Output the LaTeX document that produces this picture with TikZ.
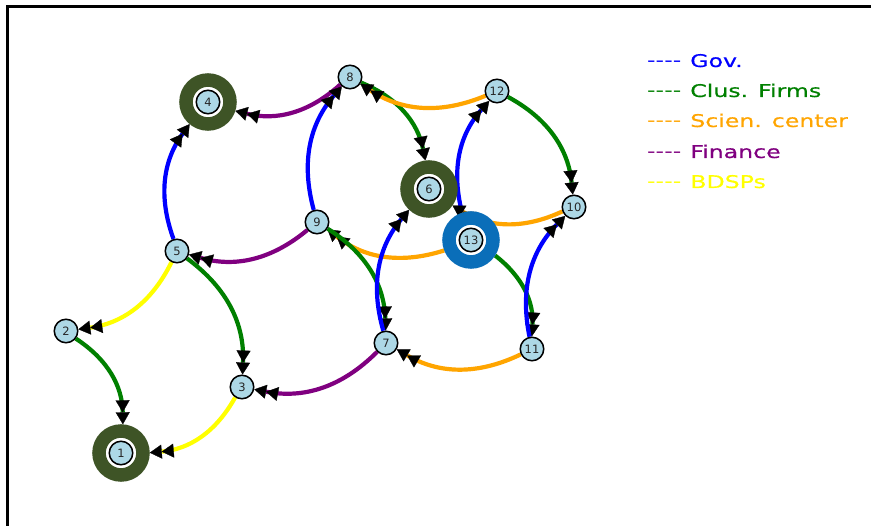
\documentclass[tikz,border=0pt]{standalone}
\usepackage{fontspec}
\usetikzlibrary{arrows.meta,backgrounds}
\newfontfamily\legendfont[FakeStretch=1.35,FakeBold=0.6]{DejaVu Sans}
\newfontfamily\dashfont[FakeStretch=1.35]{DejaVu Sans}
\newfontfamily\labelfont{DejaVu Sans}
\definecolor{nodeblue}{HTML}{ADD8E6}
\definecolor{ringolive}{RGB}{62,84,38}
\definecolor{ringblue}{RGB}{10,110,185}
\definecolor{govc}{RGB}{0,0,255}
\definecolor{firmc}{RGB}{0,128,0}
\definecolor{scic}{RGB}{255,165,0}
\definecolor{finc}{RGB}{128,0,128}
\definecolor{bdsc}{RGB}{255,255,0}
\newcommand\dashrun{{\dashfont-\kern0pt-\kern0pt-\kern0pt-}\kern9pt}
\begin{document}
\begin{tikzpicture}[x=1pt,y=-1pt,
  actor/.style={circle,draw=black,line width=1.5pt,fill=nodeblue,minimum size=23.5pt,
    inner sep=0pt,font=\labelfont\fontsize{11.5}{11.5}\selectfont,text=black!85},
  ring/.style={circle,draw=#1,line width=13.5pt,minimum size=44pt,inner sep=0pt},
  tip/.tip={Triangle[color=black,length=12pt 0 0,width=14pt 0 0,line width=0.3pt 0]},
  link/.style={draw=#1,line width=4.2pt,bend left=28,-{tip[]tip[]}},
  legend/.style={anchor=base west,inner sep=0pt,
    font=\legendfont\fontsize{17.5}{17.5}\selectfont,text=#1}
]
\useasboundingbox (0,0) rectangle (871,526);

% frame (top and left edges only)
\draw[line width=3pt] (7.5,526) -- (7.5,7) -- (871,7);

% highlighted actors (ringed)
\node[ring=ringolive] (n1)  at (121,453) {};
\node[ring=ringolive] (n4)  at (208,102) {};
\node[ring=ringolive] (n6)  at (429,189) {};
\node[ring=ringblue]  (n13) at (471,240) {};
\node[actor] (c1)  at (n1)  {1};
\node[actor] (c4)  at (n4)  {4};
\node[actor] (c6)  at (n6)  {6};
\node[actor] (c13) at (n13) {13};

% plain actors
\node[actor] (n2)  at (66,331)  {2};
\node[actor] (n3)  at (242,387) {3};
\node[actor] (n5)  at (177,251) {5};
\node[actor] (n7)  at (386,343) {7};
\node[actor] (n8)  at (350,77)  {8};
\node[actor] (n9)  at (317,222) {9};
\node[actor] (n10) at (574,207) {10};
\node[actor] (n11) at (532,349) {11};
\node[actor] (n12) at (497,91)  {12};

% relations, drawn beneath the rings
\begin{scope}[on background layer]
  \fill[white] (0,0) rectangle (871,526);
  \draw[link=finc]  (n8)  to (n4);
  \draw[link=govc]  (n5)  to (n4);
  \draw[link=govc]  (n9)  to (n8);
  \draw[link=firmc] (n8)  to (n6);
  \draw[link=scic]  (n12) to (n8);
  \draw[link=firmc] (n12) to (n10);
  \draw[link=govc]  (n13) to (n12);
  \draw[link=scic]  (n10) to (n6);
  \draw[link=scic]  (n13) to (n9);
  \draw[link=finc]  (n9)  to (n5);
  \draw[link=firmc] (n9)  to (n7);
  \draw[link=govc]  (n7)  to (n6);
  \draw[link=firmc] (n13) to (n11);
  \draw[link=govc]  (n11) to (n10);
  \draw[link=scic]  (n11) to (n7);
  \draw[link=finc]  (n7)  to (n3);
  \draw[link=firmc] (n5)  to (n3);
  \draw[link=bdsc]  (n5)  to (n2);
  \draw[link=firmc] (n2)  to (n1);
  \draw[link=bdsc]  (n3)  to (n1);
\end{scope}

% legend
\node[legend=govc]  (lg1) at (647,67)  {\dashrun Gov.};
\node[legend=firmc] (lg2) at (647,97)  {\dashrun Clus. Firms};
\node[legend=scic]  (lg3) at (647,127) {\dashrun Scien. center};
\node[legend=finc]  (lg4) at (647,158) {\dashrun Finance};
\node[legend=bdsc]  (lg5) at (647,188) {\dashrun BDSPs};
\end{tikzpicture}
\end{document}
